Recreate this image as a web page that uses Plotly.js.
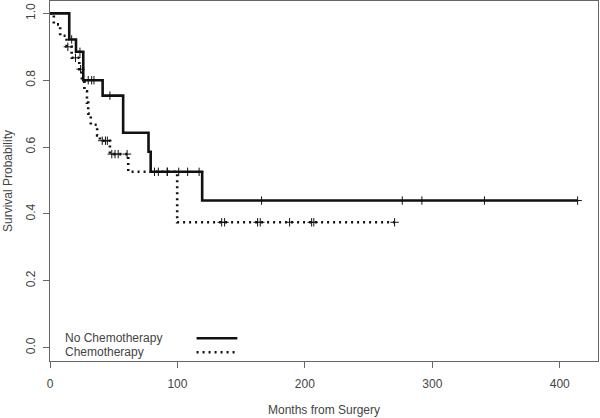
<!DOCTYPE html>
<html>
<head>
<meta charset="utf-8">
<script src="https://cdn.plot.ly/plotly-3.0.1.min.js"></script>
<style>html,body{margin:0;padding:0;background:#fff;}#chart{width:600px;height:418px;}</style>
</head>
<body>
<div id="chart"></div>
<script>
// No Chemotherapy (solid) Kaplan-Meier steps
var noChemoTime = [0, 15.1, 20.4, 26.1, 41.3, 57.4, 77.3, 79.0, 119.4, 414];
var noChemoSurv = [1.0, 0.922, 0.885, 0.80, 0.754, 0.643, 0.586, 0.526, 0.44, 0.44];
var noChemoCensor = [17, 23.5, 30, 32.7, 34.5, 47, 85, 92, 101, 108, 117, 166, 276.4, 291.8, 340.9, 414];

// Chemotherapy (dotted) Kaplan-Meier steps
var chemoTime = [0, 3, 8, 13, 17, 23, 25, 27, 29, 30, 32, 37, 39.2, 47, 61.4, 99.8, 270.4];
var chemoSurv = [1.0, 0.967, 0.933, 0.90, 0.867, 0.833, 0.80, 0.767, 0.733, 0.70, 0.667, 0.635, 0.619, 0.579, 0.526, 0.375, 0.375];
var chemoCensor = [14, 20, 24, 41, 43.5, 45, 48.5, 51, 53.5, 60.5, 82, 92, 134.7, 137, 162.9, 165, 188, 205.3, 207, 270.4];

var xTicks = [0, 100, 200, 300, 400];
var yTicks = [0.0, 0.2, 0.4, 0.6, 0.8, 1.0];
var yTickText = ["0.0", "0.2", "0.4", "0.6", "0.8", "1.0"];
var legendLabels = ["No Chemotherapy", "Chemotherapy"];

function stepAt(times, surv, t) {
  var s = surv[0];
  for (var i = 0; i < times.length; i++) { if (times[i] <= t) s = surv[i]; }
  return s;
}

var ink = '#111';
var traces = [
  {x: noChemoTime, y: noChemoSurv, mode: 'lines', line: {shape: 'hv', color: ink, width: 2.6}, hoverinfo: 'skip'},
  {x: noChemoCensor, y: noChemoCensor.map(function(t){return stepAt(noChemoTime, noChemoSurv, t);}),
   mode: 'markers', marker: {symbol: 'cross-thin', size: 6, line: {color: ink, width: 1}}, hoverinfo: 'skip'},
  {x: chemoTime, y: chemoSurv, mode: 'lines', line: {shape: 'hv', color: ink, width: 2.6, dash: '2px,4px'}, hoverinfo: 'skip'},
  {x: chemoCensor, y: chemoCensor.map(function(t){return stepAt(chemoTime, chemoSurv, t);}),
   mode: 'markers', marker: {symbol: 'cross-thin', size: 6, line: {color: ink, width: 1}}, hoverinfo: 'skip'}
];

var axisColor = '#666';
var textColor = '#444';
var font = {family: 'Liberation Sans, Arial, sans-serif', size: 12, color: textColor};

var layout = {
  width: 600, height: 418,
  margin: {l: 50, r: 2, t: 1, b: 57},
  paper_bgcolor: '#fff', plot_bgcolor: '#fff',
  showlegend: false,
  font: font,
  xaxis: {
    range: [0, 430], tickvals: xTicks, ticks: 'outside', ticklen: 6, tickcolor: axisColor, tickwidth: 1,
    ticklabelstandoff: 5,
    showline: true, mirror: true, linecolor: axisColor, linewidth: 1.3, showgrid: false, zeroline: false,
    tickfont: font,
    title: {text: 'Months from Surgery', font: font, standoff: 16}
  },
  yaxis: {
    range: [-0.04, 1.037], tickvals: yTicks, ticktext: yTickText, tickangle: -90,
    ticks: 'outside', ticklen: 6, tickcolor: axisColor, tickwidth: 1,
    ticklabelstandoff: 3,
    showline: true, mirror: true, linecolor: axisColor, linewidth: 1.3, showgrid: false, zeroline: false,
    tickfont: font,
    title: {text: 'Survival Probability', font: font, standoff: 8}
  },
  annotations: [
    {x: 10, y: 0.029, xref: 'x', yref: 'y', text: legendLabels[0], showarrow: false, xanchor: 'left', yanchor: 'middle', font: font},
    {x: 10, y: -0.013, xref: 'x', yref: 'y', text: legendLabels[1], showarrow: false, xanchor: 'left', yanchor: 'middle', font: font}
  ],
  shapes: [
    {type: 'line', xref: 'x', yref: 'y', x0: 115, x1: 147, y0: 0.028, y1: 0.028, line: {color: ink, width: 2.6}},
    {type: 'line', xref: 'x', yref: 'y', x0: 115, x1: 145, y0: -0.014, y1: -0.014, line: {color: ink, width: 2.6, dash: '2px,4px'}}
  ]
};

Plotly.newPlot('chart', traces, layout, {staticPlot: true, displayModeBar: false});
</script>
</body>
</html>
